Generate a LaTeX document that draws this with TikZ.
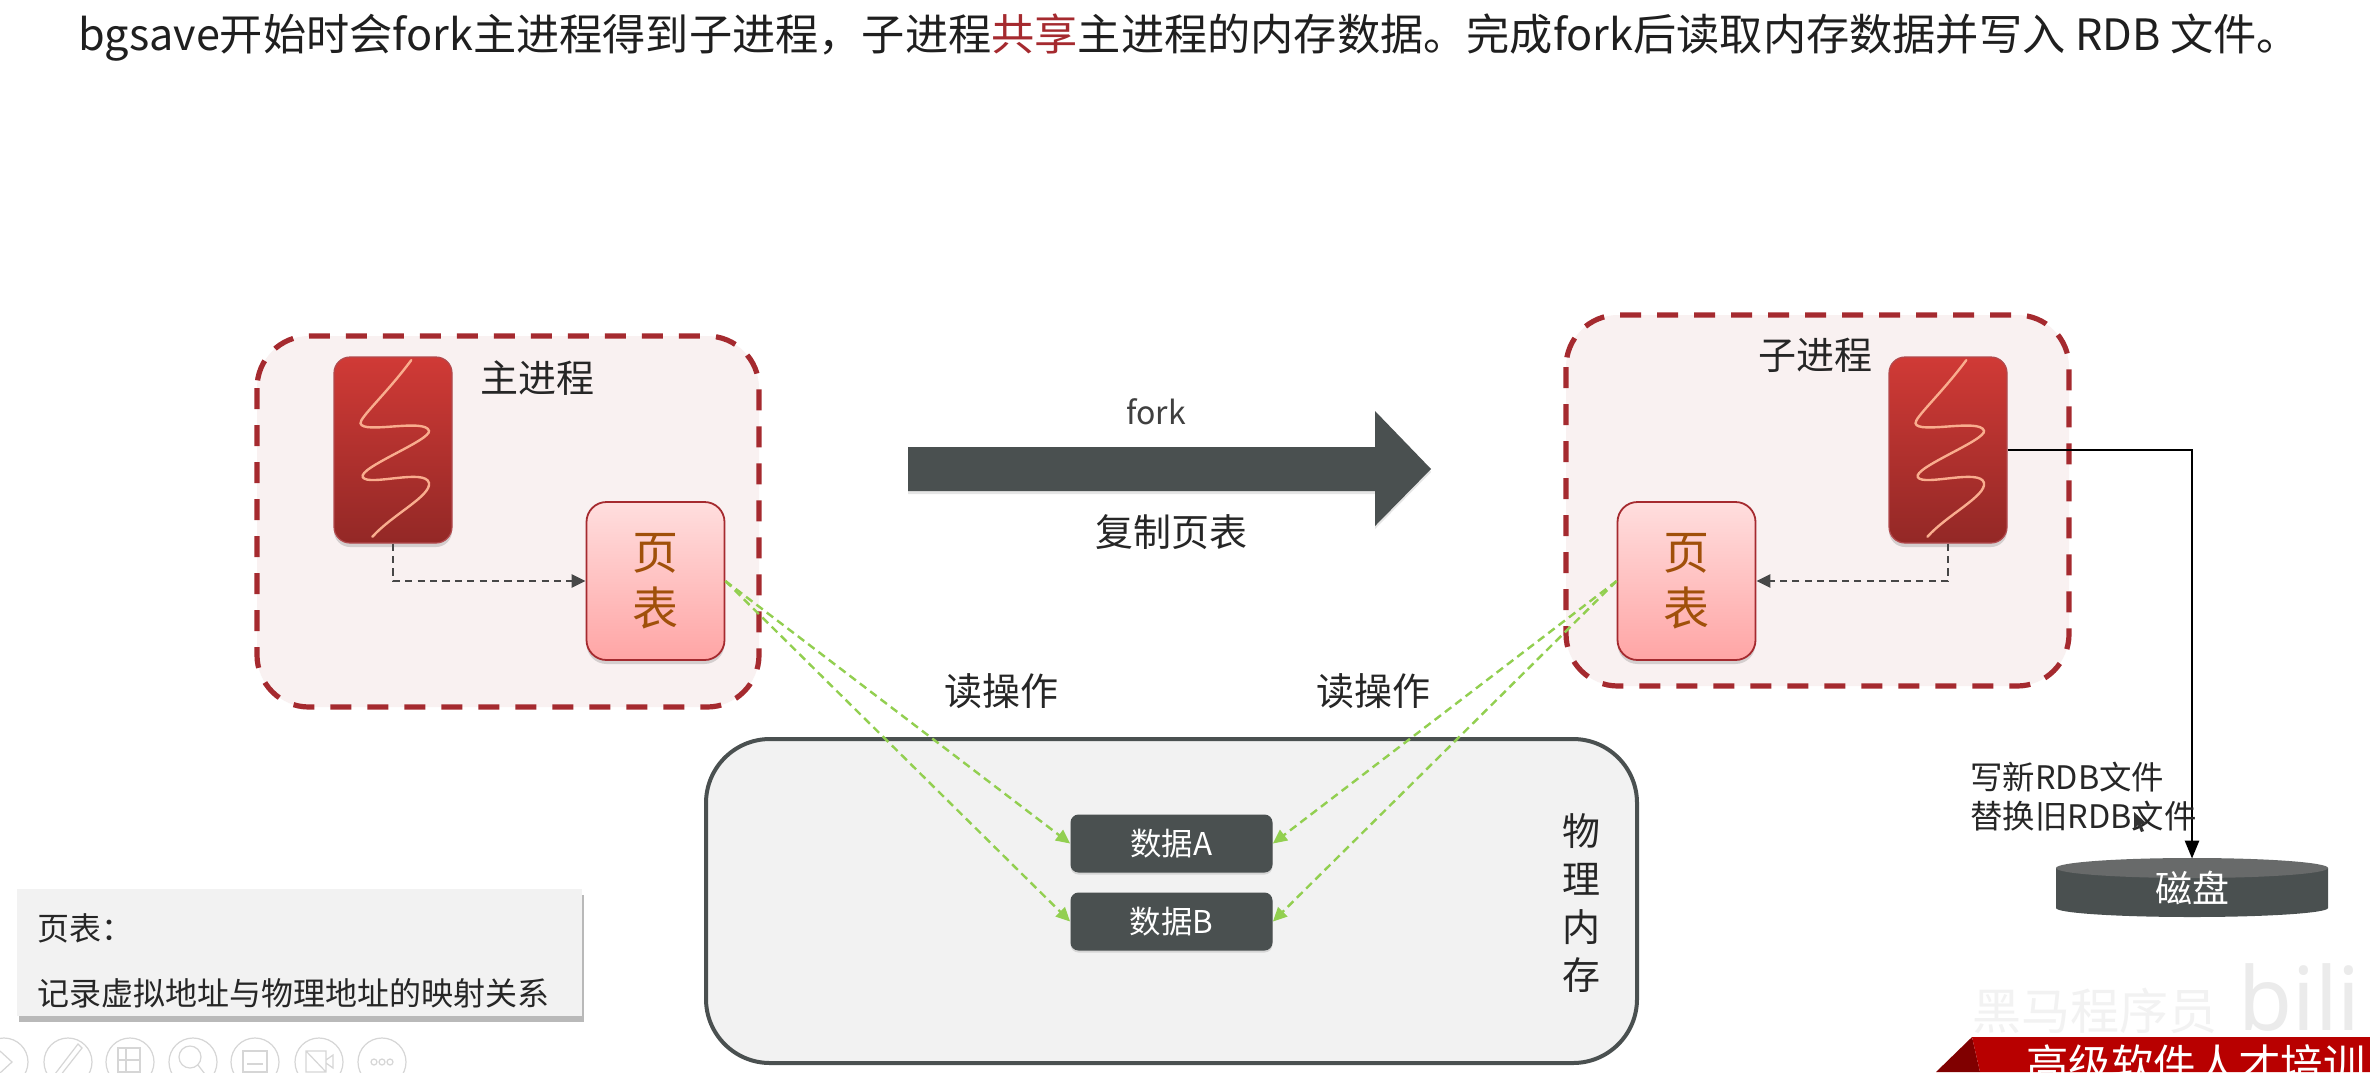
\documentclass[tikz,border=0pt]{standalone}
\usepackage{fontspec}
\setmainfont{Noto Sans CJK SC}
\newfontfamily\latinsans{Noto Sans}
\usetikzlibrary{shadows,arrows.meta,positioning}
\definecolor{boxred}{HTML}{A52A2F}
\definecolor{boxfill}{HTML}{F9F1F1}
\definecolor{slate}{HTML}{4A5050}
\definecolor{leaf}{HTML}{92CF50}
\definecolor{ptext}{HTML}{A0500A}
\definecolor{threadtop}{HTML}{D03A36}
\definecolor{threadbot}{HTML}{932826}
\definecolor{pagetop}{HTML}{FFDEDE}
\definecolor{pagebot}{HTML}{FFA5A5}
\definecolor{squigc}{HTML}{F9AD8E}
\newcommand{\fsz}[1]{\fontsize{#1}{#1}\selectfont}
\tikzset{
  procbox/.style={draw=boxred,line width=2.6pt,dash pattern=on 10.5pt off 8pt,fill=boxfill,rounded corners=26pt},
  threadbox/.style={draw=boxred!85!white,line width=.6pt,top color=threadtop,bottom color=threadbot,rounded corners=8pt,minimum width=59pt,minimum height=93pt,inner sep=0pt,drop shadow={shadow xshift=0pt,shadow yshift=-2pt,opacity=.3}},
  pagebox/.style={draw=boxred,line width=.9pt,top color=pagetop,bottom color=pagebot,rounded corners=10pt,minimum width=69pt,minimum height=79pt,inner sep=0pt,text=ptext,font=\fsz{23},align=center,drop shadow={shadow xshift=0pt,shadow yshift=-2pt,opacity=.3}},
  databox/.style={fill=slate,rounded corners=4pt,minimum width=101pt,minimum height=29pt,inner sep=0pt,text=white,font=\fsz{15.7},drop shadow={shadow xshift=0pt,shadow yshift=-1pt,opacity=.25}},
  dashlink/.style={draw=black!72,line width=1.25pt,dash pattern=on 3.6pt off 2.6pt,-{Triangle[length=7pt,width=6.5pt]}},
  greenlink/.style={draw=leaf,line width=1.2pt,dash pattern=on 4pt off 2.5pt,-{Triangle[length=7pt,width=6.5pt]}},
  label/.style={inner sep=0pt,font=\fsz{19},text=black!85},
  squig/.style={draw=squigc,line width=1.2pt,line cap=round},
  icon/.style={draw=black!16,line width=.6pt},
}
\newcommand{\squiggle}[1]{%
  \begin{scope}[shift={(#1.north west)},x=59pt,y=-93pt]
    \draw[squig] (.66,.02) .. controls (.45,.2) and (.22,.33) .. (.23,.36)
      .. controls (.25,.42) and (.78,.33) .. (.81,.40)
      .. controls (.83,.45) and (.2,.6) .. (.25,.65)
      .. controls (.3,.7) and (.78,.6) .. (.81,.68)
      .. controls (.83,.75) and (.5,.85) .. (.33,.97);
  \end{scope}}
\begin{document}
\begin{tikzpicture}[x=.5pt,y=-.5pt]
\useasboundingbox (0,0) rectangle (2370,1072);
\fill[white] (0,0) rectangle (2370,1072);
% title
\node[inner sep=0pt,anchor=center,font=\fsz{21.6},text=black!88] (title) at (1189,38)
  {bgsave开始时会fork主进程得到子进程，子进程{\color{boxred}共享}主进程的内存数据。完成fork后读取内存数据并写入 RDB 文件。};
% process boxes
\draw[procbox] (257,336) rectangle (759,707);
\draw[procbox] (1566,315) rectangle (2069,686);
\node[threadbox] (t1) at (393,450) {};
\node[threadbox] (t2) at (1948,450) {};
\squiggle{t1}
\squiggle{t2}
\node[pagebox] (p1) at (655.5,581) {页\\[5pt]表};
\node[pagebox] (p2) at (1686.5,581) {页\\[5pt]表};
\node[label] (main) at (537,378) {主进程};
\node[label] (child) at (1815,355) {子进程};
\draw[dashlink] (t1.south) |- (p1.west);
\draw[dashlink] (t2.south) |- (p2.east);
% fork arrow
\fill[slate,drop shadow={shadow xshift=0pt,shadow yshift=-1.5pt,opacity=.2}] (908,447) -- (1375,447) -- (1375,411) -- (1431,469) -- (1375,526) -- (1375,491) -- (908,491) -- cycle;
\node[inner sep=0pt,font=\fsz{16},text=black!75] (fork) at (1156,412) {fork};
\node[label] (copy) at (1171,532) {复制页表};
% memory
\draw[draw=slate,line width=2pt,fill=black!5,rounded corners=32pt] (706,739) rectangle (1637,1063);
\node[databox] (a) at (1171.5,843.5) {数据A};
\node[databox] (b) at (1171.5,921.5) {数据B};
\node[label,align=center] (mem) at (1581,903) {物\\[5pt]理\\[5pt]内\\[5pt]存};
\node[label] (r1) at (1001,691) {读操作};
\node[label] (r2) at (1373,691) {读操作};
\draw[greenlink] (p1.east) -- (a.west);
\draw[greenlink] (p1.east) -- (b.west);
\draw[greenlink] (p2.west) -- (a.east);
\draw[greenlink] (p2.west) -- (b.east);
% disk
\fill[slate] (2056,868) -- (2056,908) arc[start angle=180,end angle=0,x radius=136,y radius=9] -- (2328,868) -- cycle;
\fill[black!48!slate!70!white] (2192,868) ellipse[x radius=136,y radius=10];
\node[inner sep=0pt,minimum width=136pt,minimum height=29pt,text=white,font=\fsz{18.5}] (disk) at (2192,888) {\raisebox{-5pt}{磁盘}};
\draw[line width=1.3pt,-{Triangle[length=9pt,width=7pt]}] (t2.east) -| (disk.north);
\node[inner sep=0pt,anchor=west,font=\fsz{16.2},text=black!85] (w1) at (1970,777) {写新RDB文件};
\node[inner sep=0pt,anchor=west,font=\fsz{16.2},text=black!85] (w2) at (1970,816) {替换旧RDB文件};
% mouse cursor
\fill[black!80] (2134,812) -- (2134,829) -- (2138,825) -- (2141,832) -- (2144,831) -- (2141,824) -- (2147,824) -- cycle;
% legend
\fill[black!5,drop shadow={shadow xshift=1pt,shadow yshift=-3pt,opacity=.55}] (17,889) rectangle (582,1016);
\node[inner sep=0pt,anchor=west,font=\fsz{16},text=black!85] (l1) at (37,928) {页表：};
\node[inner sep=0pt,anchor=west,font=\fsz{16},text=black!85] (l2) at (37,993) {记录虚拟地址与物理地址的映射关系};
% toolbar
\foreach \c in {4,68,130,193,255,319,382} \draw[icon] (\c,1062) circle[radius=24];
\draw[icon] (0,1051) -- (12,1062) -- (0,1073);
\draw[icon] (55,1074) -- (78,1044) -- (82,1048) -- (60,1076);
\draw[icon] (118,1048) rectangle (140,1072) (126,1048) -- (126,1072) (118,1060) -- (140,1060);
\draw[icon] (190,1057) circle[radius=11] (198,1065) -- (208,1078);
\draw[icon] (243,1051) rectangle (267,1072) (247,1064) -- (263,1064);
\draw[icon] (306,1051) rectangle (326,1072) (306,1051) -- (326,1072) (326,1060) -- (333,1055) -- (333,1068) -- (326,1063);
\foreach \c in {374,382,390} \draw[icon] (\c,1062) circle[radius=3];
% watermark
\node[inner sep=0pt,anchor=west,font=\fsz{24.5},text=black!5] (wm) at (1972,1011) {黑马程序员};
\node[inner sep=0pt,anchor=west,font={\latinsans\bfseries\fsz{44}},text=black!8] (bili) at (2238,997) {bili};
% banner
\fill[red!50!black] (1936,1072) -- (1972,1037) -- (1980,1072) -- cycle;
\fill[red!72!black] (1972,1037) -- (2370,1037) -- (2370,1072) -- (1980,1072) -- cycle;
\node[inner sep=0pt,anchor=west,font=\fsz{21.2},text=white] (banner) at (2026,1064) {高级软件人才培训};
\end{tikzpicture}
\end{document}
